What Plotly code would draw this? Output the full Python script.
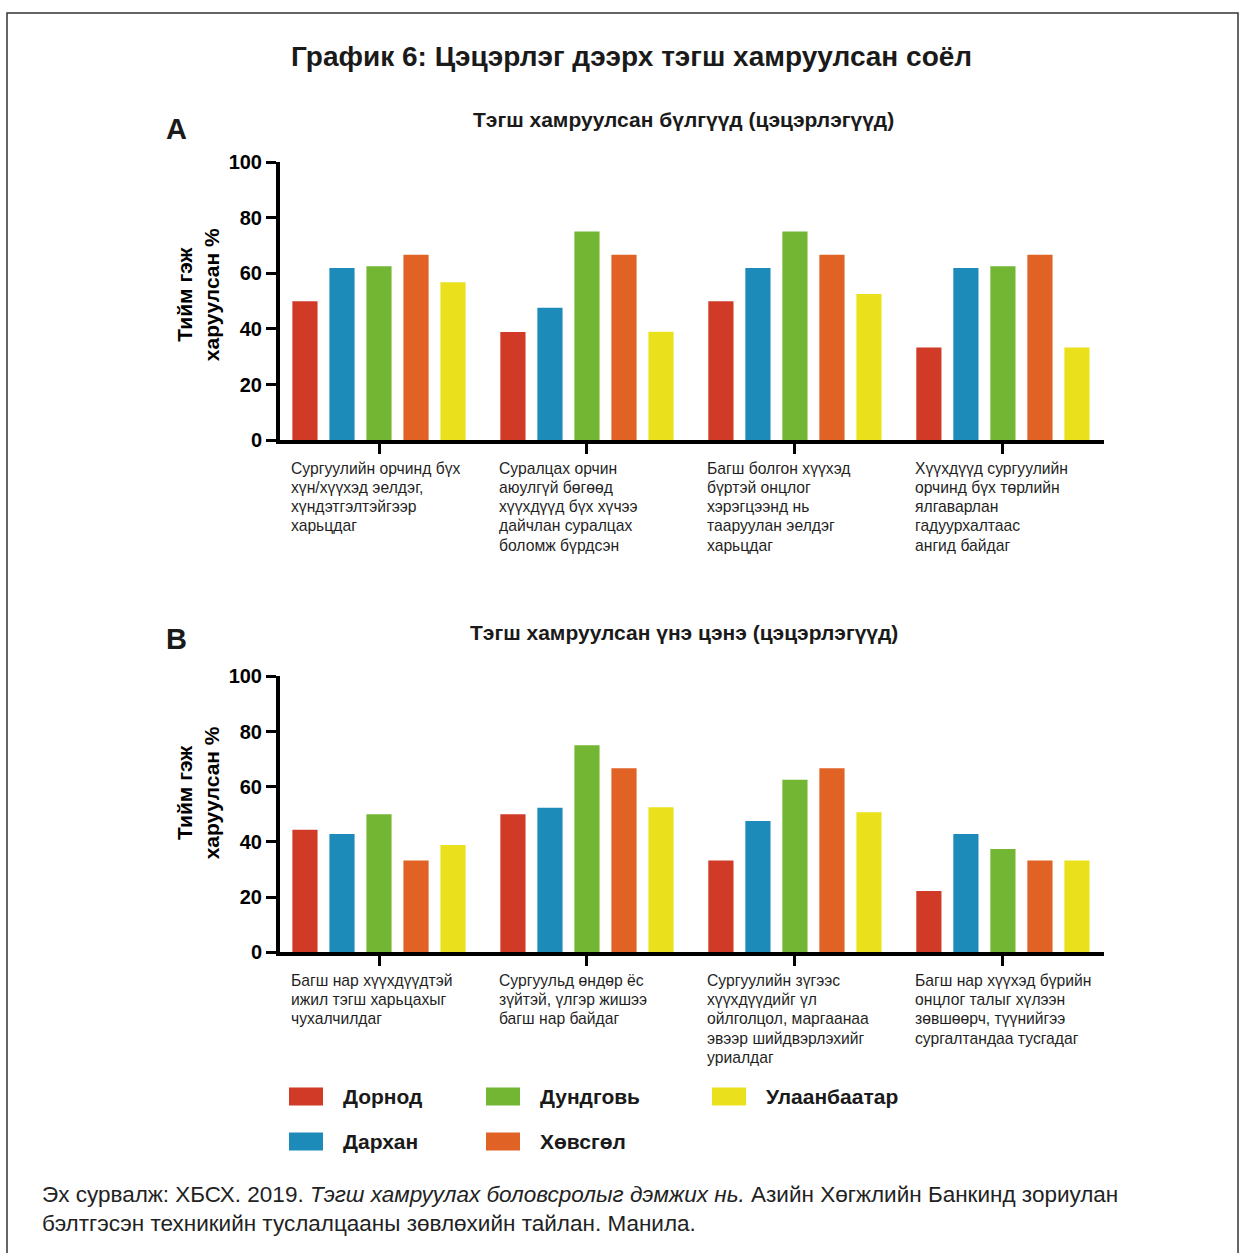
import plotly.graph_objects as go

# ---------------- data ----------------
regions = ["Дорнод", "Дархан", "Дундговь", "Хөвсгөл", "Улаанбаатар"]
colors = ["#D03A27", "#1C8BBA", "#73B633", "#E06224", "#EAE11C"]

categories_a = [
    "Сургуулийн орчинд бүх<br>хүн/хүүхэд эелдэг,<br>хүндэтгэлтэйгээр<br>харьцдаг",
    "Суралцах орчин<br>аюулгүй бөгөөд<br>хүүхдүүд бүх хүчээ<br>дайчлан суралцах<br>боломж бүрдсэн",
    "Багш болгон хүүхэд<br>бүртэй онцлог<br>хэрэгцээнд нь<br>тааруулан эелдэг<br>харьцдаг",
    "Хүүхдүүд сургуулийн<br>орчинд бүх төрлийн<br>ялгаварлан<br>гадуурхалтаас<br>ангид байдаг",
]
categories_b = [
    "Багш нар хүүхдүүдтэй<br>ижил тэгш харьцахыг<br>чухалчилдаг",
    "Сургуульд өндөр ёс<br>зүйтэй, үлгэр жишээ<br>багш нар байдаг",
    "Сургуулийн зүгээс<br>хүүхдүүдийг үл<br>ойлголцол, маргаанаа<br>эвээр шийдвэрлэхийг<br>уриалдаг",
    "Багш нар хүүхэд бүрийн<br>онцлог талыг хүлээн<br>зөвшөөрч, түүнийгээ<br>сургалтандаа тусгадаг",
]

dornod_a = [50.0, 38.9, 50.0, 33.3]
darkhan_a = [61.9, 47.6, 61.9, 61.9]
dundgovi_a = [62.5, 75.0, 75.0, 62.5]
khuvsgul_a = [66.7, 66.7, 66.7, 66.7]
ulaanbaatar_a = [56.8, 39.0, 52.6, 33.3]

dornod_b = [44.4, 50.0, 33.3, 22.2]
darkhan_b = [42.9, 52.4, 47.6, 42.9]
dundgovi_b = [50.0, 75.0, 62.5, 37.5]
khuvsgul_b = [33.3, 66.7, 66.7, 33.3]
ulaanbaatar_b = [38.9, 52.6, 50.8, 33.3]

y_ticks = [0, 20, 40, 60, 80, 100]

main_title = "График 6: Цэцэрлэг дээрх тэгш хамруулсан соёл"
title_a = "Тэгш хамруулсан бүлгүүд (цэцэрлэгүүд)"
title_b = "Тэгш хамруулсан үнэ цэнэ (цэцэрлэгүүд)"
y_title = "Тийм гэж<br>харуулсан %"
source_text = ("Эх сурвалж: ХБСХ. 2019. <i>Тэгш хамруулах боловсролыг дэмжих нь.</i> "
               "Азийн Хөгжлийн Банкинд зориулан<br>бэлтгэсэн техникийн туслалцааны зөвлөхийн тайлан. Манила.")

series_a = [dornod_a, darkhan_a, dundgovi_a, khuvsgul_a, ulaanbaatar_a]
series_b = [dornod_b, darkhan_b, dundgovi_b, khuvsgul_b, ulaanbaatar_b]

# ---------------- layout helpers ----------------
W, H = 1244, 1253
FONT = "Liberation Sans, Arial, sans-serif"
# vertical calibration of the photographed page (observed: shot_y = 10 + 0.982 * page_y)
Y_OFF, Y_SCALE = 10.0, 0.982


def px(x):
    return x / W


def py(y):
    return 1 - ((y - Y_OFF) / Y_SCALE) / H


fig = go.Figure()

for name, col, va, vb in zip(regions, colors, series_a, series_b):
    fig.add_trace(go.Bar(x=categories_a, y=va, name=name, marker=dict(color=col, line=dict(width=0)),
                         xaxis="x", yaxis="y", showlegend=False))
    fig.add_trace(go.Bar(x=categories_b, y=vb, name=name, marker=dict(color=col, line=dict(width=0)),
                         xaxis="x2", yaxis="y2", showlegend=False))

x_dom = [px(280), px(1104)]
x_range = [-0.476, 3.486]
xaxis_common = dict(domain=x_dom, range=x_range, type="category", showline=True, linewidth=4,
                    linecolor="black", ticks="outside", ticklen=10, tickwidth=3, tickcolor="black",
                    showticklabels=False, showgrid=False, zeroline=False, fixedrange=True)
yaxis_common = dict(range=[0, 100], tickvals=y_ticks, showline=True, linewidth=4, linecolor="black",
                    ticks="outside", ticklen=10, tickwidth=3, tickcolor="black",
                    tickfont=dict(family=FONT, size=20, color="black", weight="bold"),
                    showgrid=False, zeroline=False, fixedrange=True)

fig.update_layout(
    width=W, height=H,
    margin=dict(l=0, r=0, t=0, b=0),
    paper_bgcolor="white", plot_bgcolor="white",
    barmode="group", bargap=0.11, bargroupgap=0.32,
    xaxis=dict(**xaxis_common, anchor="y"),
    yaxis=dict(**yaxis_common, domain=[py(439), py(161)], anchor="x"),
    xaxis2=dict(**xaxis_common, anchor="y2"),
    yaxis2=dict(**yaxis_common, domain=[py(951), py(675)], anchor="x2"),
    font=dict(family=FONT, color="black"),
)

ann = []
# main title
ann.append(dict(text=main_title, x=px(631), y=py(55), xref="paper", yref="paper", showarrow=False,
                xanchor="center", yanchor="middle", font=dict(size=28, weight="bold", color="#1a1a1a")))
# subtitles and panel letters
for t, yy, letter, ly in [(title_a, 118, "A", 128), (title_b, 631, "B", 638)]:
    ann.append(dict(text=t, x=px(684), y=py(yy), xref="paper", yref="paper", showarrow=False,
                    xanchor="center", yanchor="middle", font=dict(size=21, weight="bold", color="#1a1a1a")))
    ann.append(dict(text=letter, x=px(176), y=py(ly), xref="paper", yref="paper", showarrow=False,
                    xanchor="center", yanchor="middle", font=dict(size=29, weight="bold", color="#1a1a1a")))
# y-axis titles
for yy in [294, 792]:
    ann.append(dict(text=y_title, x=px(198), y=py(yy), xref="paper", yref="paper", showarrow=False,
                    textangle=-90, xanchor="center", yanchor="middle",
                    font=dict(size=21, weight="bold", color="black")))
# category labels (left aligned, one annotation per line for tight line spacing)
for cats, xr, yfirst in [(categories_a, "x", 467), (categories_b, "x2", 979)]:
    for c in cats:
        for i, line in enumerate(c.split("<br>")):
            ann.append(dict(text=line, x=c, xref=xr, y=py(yfirst + 19.2 * i), yref="paper", showarrow=False,
                            xanchor="left", yanchor="middle", align="left", xshift=-90,
                            font=dict(size=15.7, color="#1f1f1f")))
# source
for i, line in enumerate(source_text.split("<br>")):
    ann.append(dict(text=line, x=px(40), y=py(1193 + 29 * i), xref="paper", yref="paper", showarrow=False,
                    xanchor="left", yanchor="middle", align="left",
                    font=dict(size=22.5, color="#222222")))

# legend (manual)
legend_pos = [(289, 1095), (289, 1140), (486, 1095), (486, 1140), (712, 1095)]
shapes = []
for (lx, ly), name, col in zip(legend_pos, regions, colors):
    shapes.append(dict(type="rect", xref="paper", yref="paper", x0=px(lx), x1=px(lx + 34),
                       y0=py(ly + 9), y1=py(ly - 9), fillcolor=col, line=dict(width=0)))
    ann.append(dict(text=name, x=px(lx + 52), y=py(ly), xref="paper", yref="paper", showarrow=False,
                    xanchor="left", yanchor="middle", font=dict(size=21, weight="bold", color="#1a1a1a")))

# frame
shapes.append(dict(type="rect", xref="paper", yref="paper", x0=px(7), x1=px(1238), y0=-0.05, y1=py(12),
                   line=dict(color="#333333", width=1.5), fillcolor="rgba(0,0,0,0)"))

fig.update_layout(annotations=ann, shapes=shapes)

# pin the plot to the top-left corner of the page so it is not shifted by page margins
pin_js = ("document.body.style.margin='0';"
          "var d=document.getElementById('{plot_id}');"
          "d.style.position='fixed';d.style.left='0px';d.style.top='0px';")
fig.write_html("out.html", post_script=pin_js, config={"displayModeBar": False})
